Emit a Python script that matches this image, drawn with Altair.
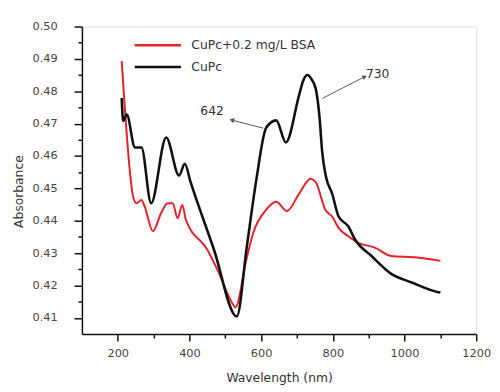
import altair as alt
import pandas as pd

# ---- data ----
series_names = ["CuPc+0.2 mg/L BSA", "CuPc"]
series_colors = ["#e3222a", "#111111"]

wl_cupc = [211, 215, 225, 248, 266, 293, 335, 371, 387, 403, 468, 532, 560, 587,
           614, 642, 669, 706, 718, 729, 740, 752, 763, 770, 781, 798, 816, 843,
           862, 908, 963, 1018, 1091, 1100]
abs_cupc = [0.4779, 0.4708, 0.4728, 0.4626, 0.4626, 0.4454, 0.4657, 0.4540, 0.4576,
            0.4520, 0.4312, 0.4104, 0.4320, 0.4530, 0.4687, 0.4710, 0.4642, 0.4789,
            0.4835, 0.4850, 0.4838, 0.4809, 0.4718, 0.4616, 0.4535, 0.4484, 0.4413,
            0.4383, 0.4342, 0.4291, 0.4236, 0.4210, 0.4180, 0.4178]

wl_bsa = [211, 243, 252, 266, 275, 298, 321, 339, 353, 367, 380, 390, 449, 477,
          523, 528, 559, 578, 614, 642, 672, 706, 738, 752, 779, 798, 816, 843,
          871, 917, 963, 1027, 1100]
abs_bsa = [0.4893, 0.4474, 0.4454, 0.4464, 0.4444, 0.4368, 0.4424, 0.4454, 0.4454,
           0.4408, 0.4449, 0.4403, 0.4312, 0.4251, 0.4139, 0.4132, 0.4281, 0.4363,
           0.4434, 0.4459, 0.4430, 0.4484, 0.4530, 0.4520, 0.4434, 0.4413, 0.4378,
           0.4352, 0.4332, 0.4317, 0.4291, 0.4287, 0.4276]

y_major = [0.41, 0.42, 0.43, 0.44, 0.45, 0.46, 0.47, 0.48, 0.49, 0.50]
y_minor = [0.415, 0.425, 0.435, 0.445, 0.455, 0.465, 0.475, 0.485, 0.495]
x_major = [200, 400, 600, 800, 1000, 1200]
x_minor = [300, 500, 700, 900, 1100]

ann_labels = ["642", "730"]
ann_x = [463, 925]
ann_y = [0.4738, 0.4854]
arrow_tail_x = [606, 771]
arrow_tail_y = [0.4686, 0.4778]
arrow_head_x = [518, 889]
arrow_head_y = [0.4711, 0.4845]

FONT = "DejaVu Sans"

df = pd.concat([
    pd.DataFrame({"wl": wl_bsa, "abs": abs_bsa, "series": series_names[0]}),
    pd.DataFrame({"wl": wl_cupc, "abs": abs_cupc, "series": series_names[1]}),
])

xs = alt.Scale(domain=[100, 1200], nice=False, zero=False)
ys = alt.Scale(domain=[0.405, 0.50], nice=False, zero=False)

x_is_major = "datum.value % 200 == 0"
y_is_major = "slice(format(datum.value, '.3f'), -1) == '0'"

x_axis = alt.Axis(values=sorted(x_major + x_minor), tickCount=100,
                  title="Wavelength (nm)", grid=False,
                  tickSize={"condition": {"test": x_is_major, "value": 7}, "value": 4},
                  labelExpr=f"({x_is_major}) ? format(datum.value, 'd') : ''",
                  labelOverlap=False, labelFlush=False, labelBound=False,
                  tickWidth=1.5, tickColor="#111", domainColor="#111", domainWidth=1.5,
                  labelFont=FONT, labelFontSize=11.5, labelColor="#444", labelPadding=7,
                  titleFont=FONT, titleFontSize=12.5, titleFontWeight="normal",
                  titleColor="#333", titleY=38, orient="bottom")
y_axis = alt.Axis(values=sorted(y_major + y_minor), tickCount=100,
                  title="Absorbance", grid=False,
                  tickSize={"condition": {"test": y_is_major, "value": 8}, "value": 4},
                  labelExpr=f"({y_is_major}) ? format(datum.value, '.2f') : ''",
                  labelOverlap=False, labelFlush=False, labelBound=False,
                  tickWidth=1.5, tickColor="#111", domainColor="#111", domainWidth=1.5,
                  labelFont=FONT, labelFontSize=11.5, labelColor="#444", labelPadding=17,
                  titleFont=FONT, titleFontSize=12.5, titleFontWeight="normal",
                  titleColor="#333", titleX=-57, titleY=167, orient="left")

color_scale = alt.Scale(domain=series_names, range=series_colors)
legend = alt.Legend(title=None, orient="none", legendX=52, legendY=8,
                    symbolType="stroke", symbolSize=2200, symbolStrokeWidth=2.5,
                    labelFont=FONT, labelFontSize=12.5, labelColor="#333",
                    clipHeight=22, rowPadding=0, labelOffset=9)

red = alt.Chart(df[df.series == series_names[0]]).mark_line(
    strokeWidth=2, interpolate="monotone").encode(
    x=alt.X("wl:Q", scale=xs, axis=x_axis),
    y=alt.Y("abs:Q", scale=ys, axis=y_axis),
    color=alt.Color("series:N", scale=color_scale, legend=legend),
)
black = alt.Chart(df[df.series == series_names[1]]).mark_line(
    strokeWidth=2.6, interpolate="monotone").encode(
    x=alt.X("wl:Q", scale=xs),
    y=alt.Y("abs:Q", scale=ys),
    color=alt.Color("series:N", scale=color_scale, legend=legend),
)

ann_df = pd.DataFrame({"label": ann_labels, "x": ann_x, "y": ann_y})
arr_df = pd.DataFrame({"x": arrow_tail_x, "y": arrow_tail_y,
                       "x2": arrow_head_x, "y2": arrow_head_y})

ann_text = alt.Chart(ann_df).mark_text(font=FONT, fontSize=12.5, color="#333").encode(
    x=alt.X("x:Q", scale=xs), y=alt.Y("y:Q", scale=ys), text="label:N")
arrows = alt.Chart(arr_df).mark_rule(color="#555", strokeWidth=1).encode(
    x=alt.X("x:Q", scale=xs), y=alt.Y("y:Q", scale=ys), x2="x2:Q", y2="y2:Q")
head1 = alt.Chart(arr_df.iloc[[0]]).mark_point(shape="triangle-up", filled=True, size=28,
                                               color="#555", opacity=1, angle=284).encode(
    x=alt.X("x2:Q", scale=xs), y=alt.Y("y2:Q", scale=ys))
head2 = alt.Chart(arr_df.iloc[[1]]).mark_point(shape="triangle-up", filled=True, size=28,
                                               color="#555", opacity=1, angle=63).encode(
    x=alt.X("x2:Q", scale=xs), y=alt.Y("y2:Q", scale=ys))

chart = alt.layer(red, black, arrows, head1, head2, ann_text).properties(
    width=400, height=312,
    autosize=alt.AutoSizeParams(type="none"),
    padding={"left": 75, "top": 16, "right": 16, "bottom": 56},
).configure_view(stroke=None).configure(background="white")

chart.save("out.html", embed_options={"renderer": "svg", "actions": False})
